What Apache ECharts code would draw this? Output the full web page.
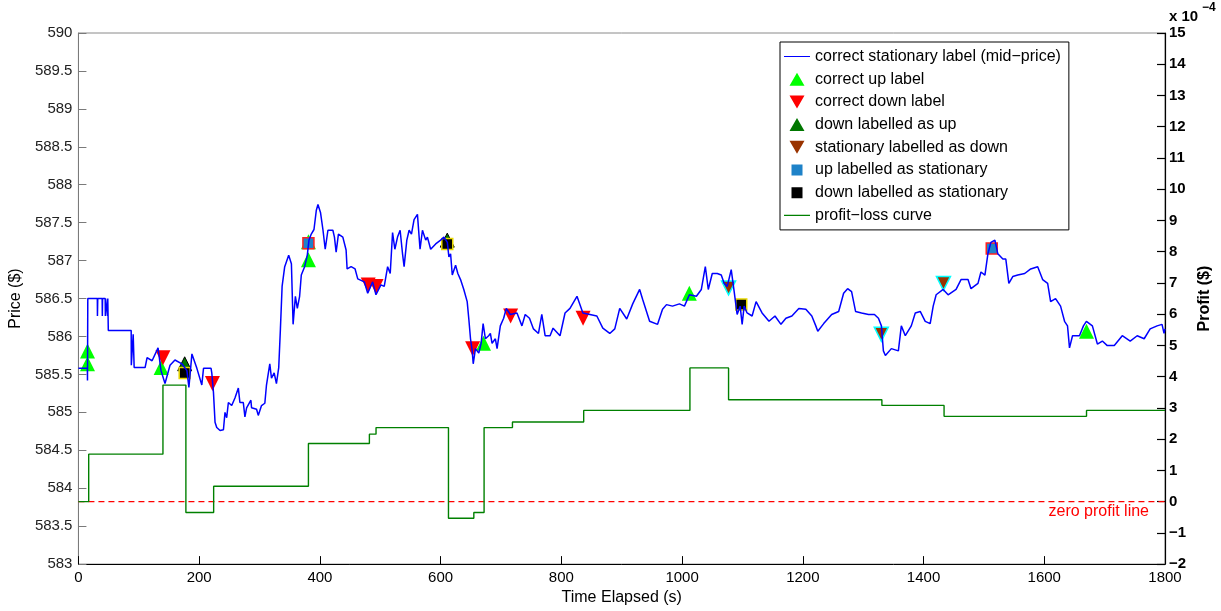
<!DOCTYPE html>
<html>
<head>
<meta charset="utf-8">
<script src="https://cdn.jsdelivr.net/npm/echarts@6/dist/echarts.min.js"></script>
<style>
html,body{margin:0;padding:0;background:#fff;}
#chart{width:1221px;height:611px;}
</style>
</head>
<body>
<div id="chart"></div>
<script>
// ---- data ----
const timeS = [0,14.8,15,15.5,31.3,31.5,32,39.3,39.6,40,44.3,44.6,45,47.8,48.2,48.6,49.5,87.4,87.6,90.7,92.3,110.4,113.7,122,131.9,136.8,143.4,151.7,159.9,171.4,179.7,183,188,196.2,
204.4,207.2,219.7,220.9,223.7,226.3,229.1,234.6,240.2,242.8,245.6,248.4,253.9,259.3,264.9,267.5,273.1,275.8,278.6,285.7,286.8,295.1,297.9,303.3,308.8,311.5,317,319.8,324.2,328,331.8,334.6,337.4,341.7,348.3,352.8,355.6,359.4,362.6,366.4,369.2,374.7,379.1,381.9,385.7,390.2,394,396.8,401.1,405,408.8,413.3,421.5,424.1,426.9,430.7,438,443.4,445.1,451.7,458.3,462.7,473.6,479.2,487.4,492.9,501.1,
506.6,512.2,516.5,520.4,524.2,528.6,532.9,536.9,539.5,544,547.8,551.7,556,561.6,565.9,569.9,575.3,578.1,583.5,591.8,600,605.5,611.1,613.7,616.5,619.3,624.8,628.5,633,638.4,644,646.7,649.5,652.3,654,657.7,663.2,667.1,670.4,674.2,679.6,682.4,685.2,690.7,693.5,698.9,704.4,708.8,715.4,726.5,734.7,740.1,747.2,753.8,762.1,767.6,773.1,781.3,
786.3,797.8,806.1,814.3,825.9,835.7,847.3,858.8,868.7,880.2,888.5,896.7,908.3,918.2,929.7,934.6,946.2,959.4,967.6,974.2,984.1,995.6,1003.9,1012.1,1023.7,1031.9,1038.5,1043.4,1050,1058.3,1064.9,1069.8,1074.8,1081.4,1086.3,1091.2,1096.2,1099.5,1102.8,1107.7,1116,1122.6,1132.5,1144,1153.9,1163.8,1172,1181.9,1193.4,1205,1214.9,1221.5,1224.8,1234.6,1247.8,1259.4,1267.6,1274.2,1280.8,1287.4,1297.3,1308.8,1318.7,1325.3,1330.2,1333.5,1336.8,1346.7,1358.3,1363.2,1369.8,1379.7,1386.3,1394.5,1402.8,1411,1416,1420.9,1432.5,1440.7,1453.9,1462.1,1473.7,1478.6,1490.2,1495.1,1501.7,1506.6,1511.6,1518.2,1523.1,1531.4,1536.3,1541.3,1547.8,1556.1,1567.6,1577.5,1589.1,1597.3,1605.6,1610.5,1618.7,1627,1633.6,1638.5,1641.8,1646.8,1658.3,1664.9,1669.8,1679.7,1688,1696.2,1704.4,1716,1729.2,1742.4,1753.9,1765.5,1775.4,1786.9,1795.1,1798.4,1800];
const midPrice = [585.58,585.58,585.42,586.50,586.50,586.27,586.50,586.50,586.27,586.50,586.50,586.27,586.50,586.50,586.27,586.50,586.08,586.08,585.62,586.03,585.59,585.59,585.72,585.68,585.85,585.55,585.38,585.62,585.69,585.64,585.55,585.33,585.77,585.58,
585.36,585.58,585.58,585.52,585.26,584.87,584.80,584.76,584.77,585.00,584.93,585.13,585.09,585.19,585.32,585.13,585.13,584.94,585.06,585.16,585.06,585.04,584.96,585.09,585.12,585.36,585.64,585.45,585.52,585.38,585.59,586.10,586.66,586.92,587.07,586.96,586.16,586.53,586.37,586.53,586.81,586.92,587.07,587.27,587.35,587.41,587.66,587.74,587.63,587.41,587.15,587.40,587.40,587.31,587.11,587.35,587.31,587.14,586.89,586.92,586.89,586.76,586.72,586.57,586.72,586.55,586.68,
586.66,586.92,586.83,587.37,587.15,587.31,587.40,587.09,586.92,587.27,587.40,587.35,587.54,587.61,587.15,587.40,587.27,587.31,587.15,587.22,587.27,587.31,587.24,587.05,587.09,586.81,586.94,586.83,586.75,586.62,586.46,586.23,585.97,585.81,585.64,585.84,585.78,585.91,586.17,585.97,586.01,586.04,585.91,585.97,585.84,586.14,586.24,586.37,586.29,586.31,586.14,586.29,586.24,586.10,586.04,586.29,586.01,586.01,
586.11,586.01,586.31,586.37,586.53,586.31,586.29,586.27,586.11,586.04,586.10,586.37,586.23,586.43,586.62,586.49,586.20,586.16,586.36,586.42,586.40,586.43,586.40,586.55,586.53,586.62,586.92,586.62,586.83,586.83,586.81,586.70,586.66,586.88,586.59,586.29,586.40,586.16,586.40,586.31,586.27,586.46,586.31,586.20,586.27,586.16,586.24,586.27,586.37,586.36,586.27,586.14,586.07,586.17,586.29,586.33,586.57,586.63,586.59,586.33,586.31,586.29,586.29,586.24,586.14,585.81,585.75,585.84,585.81,586.14,586.01,586.14,586.31,586.33,586.20,586.17,586.40,586.55,586.62,586.55,586.62,586.75,586.75,586.63,586.70,586.85,586.81,587.09,587.24,587.27,587.09,587.02,587.02,586.70,586.79,586.81,586.83,586.89,586.92,586.75,586.70,586.46,586.50,586.40,586.20,586.14,585.85,586.01,586.01,586.14,586.20,586.14,585.90,585.94,585.88,585.88,586.01,585.94,586.01,585.97,586.10,586.14,586.16,586.04,586.10];

const profitT = [0,17,140,178,224,381,482,493,613,655,672,719,837,1013,1077,1331,1434,1670,1800];
const profitV = [0,1.52,3.73,-0.35,0.49,1.86,2.16,2.37,-0.53,-0.35,2.37,2.55,2.92,4.28,3.26,3.08,2.73,2.92,2.92]; // x 10^-4

const correctUpT = [15,15,137,381,381,671,1012,1670];
const correctUpP = [585.81,585.64,585.59,587.25,587.01,585.91,586.57,586.07];
const correctDownT = [140,222,480,493,653,716,836];
const correctDownP = [585.72,585.38,586.68,586.66,585.84,586.27,586.24];
const downAsUpT = [176,611];
const downAsUpP = [585.64,587.27];
const statAsDownT = [1077,1330,1433];
const statAsDownP = [586.64,586.03,586.70];
const upAsStatT = [381,1513];
const upAsStatP = [587.23,587.16];
const downAsStatT = [176,611,1098];
const downAsStatP = [585.52,587.22,586.42];

const zeroLineT = [0,1800];
const zeroLineV = [0,0];

const leftTicks = {min:583, max:590, step:0.5};
const rightTicks = {min:-2, max:15, step:1};

const legendNames = ['correct stationary label (mid\u2212price)','correct up label','correct down label','down labelled as up','stationary labelled as down','up labelled as stationary','down labelled as stationary','profit\u2212loss curve'];

// ---- build ----
const zip = (a,b) => a.map((v,i) => [v, b[i]]);
const minus = v => (v < 0 ? '\u2212' + Math.abs(v) : String(v));
const FONT = 'Liberation Sans, Arial, Helvetica, sans-serif';

// legend icon shapes inside a 26x14 box (corner points fix the box)
const BOX = 'M0,0 L0,0 Z M26,14 L26,14 Z ';
const ICON_LINE = 'path://' + BOX + 'M0,6.4 L26,6.4 L26,7.6 L0,7.6 Z';
const ICON_UP = 'path://' + BOX + 'M5.5,13.5 L13,0.5 L20.5,13.5 Z';
const ICON_DOWN = 'path://' + BOX + 'M5.5,0.5 L20.5,0.5 L13,13.5 Z';
const ICON_SQ = 'path://' + BOX + 'M7.5,1.5 L18.5,1.5 L18.5,12.5 L7.5,12.5 Z';
const legendIcons = [ICON_LINE, ICON_UP, ICON_DOWN, ICON_UP, ICON_DOWN, ICON_SQ, ICON_SQ, ICON_LINE];

const chart = echarts.init(document.getElementById('chart'), null, {renderer:'canvas'});

function scatter(name, t, p, symbol, rotate, size, color, border, bw) {
  return {
    name, type:'scatter', data: zip(t,p), symbol, symbolRotate: rotate, symbolSize: size,
    itemStyle:{color, borderColor:border, borderWidth:bw, opacity:1},
    z:3, animation:false, silent:true
  };
}

const option = {
  animation:false,
  textStyle:{fontFamily:FONT},
  grid:{left:76, right:53, top:33, bottom:40, show:true, borderColor:'#8a8a8a', borderWidth:1, backgroundColor:'#fff'},
  legend:{
    orient:'vertical', left:780, top:42,
    padding:[6.5,8,6.5,4], itemGap:6.7, itemWidth:26, itemHeight:14,
    backgroundColor:'#fff', borderColor:'#000', borderWidth:1, borderRadius:0,
    textStyle:{fontSize:16, color:'#000', fontFamily:FONT},
    itemStyle:{borderWidth:0},
    symbolKeepAspect:true,
    selectedMode:false,
    data: legendNames.map((n,i) => ({name:n, icon:legendIcons[i]}))
  },
  xAxis:{
    type:'value', min:0, max:1800, interval:200,
    axisLine:{onZero:false, lineStyle:{color:'#000', width:1}},
    axisTick:{inside:true, length:8, lineStyle:{color:'#000'}},
    axisLabel:{fontSize:15, color:'#000', margin:6, fontFamily:FONT, formatter: v => String(v)},
    splitLine:{show:false},
    name:'Time Elapsed (s)', nameLocation:'middle', nameGap:21,
    nameTextStyle:{fontSize:16, color:'#000', fontFamily:FONT}
  },
  yAxis:[
    {
      type:'value', position:'left', min:leftTicks.min, max:leftTicks.max, interval:leftTicks.step,
      axisLine:{show:true, onZero:false, lineStyle:{color:'#7a7a7a'}},
      axisTick:{show:true, inside:true, length:8, lineStyle:{color:'#7a7a7a'}},
      axisLabel:{fontSize:15, color:'#222', margin:6, fontFamily:FONT},
      splitLine:{show:false},
      name:'Price ($)', nameLocation:'middle', nameGap:48, nameRotate:90,
      nameTextStyle:{fontSize:16, color:'#000', fontFamily:FONT}
    },
    {
      type:'value', position:'right', min:rightTicks.min, max:rightTicks.max, interval:rightTicks.step,
      axisLine:{show:true, onZero:false, lineStyle:{color:'#000', width:1.2}},
      axisTick:{show:true, inside:true, length:8, lineStyle:{color:'#000', width:1.2}},
      axisLabel:{fontSize:15, color:'#000', margin:4, fontWeight:'bold', fontFamily:FONT, formatter:minus},
      splitLine:{show:false},
      name:'Profit ($)', nameLocation:'middle', nameGap:31, nameRotate:90,
      nameTextStyle:{fontSize:16, color:'#000', fontWeight:'bold', fontFamily:FONT}
    }
  ],
  graphic:[
    {type:'text', left:1169, top:9, style:{text:'x 10', fontSize:15, fill:'#000', fontFamily:FONT, fontWeight:'bold'}},
    {type:'text', left:1202, top:2, style:{text:'\u22124', fontSize:12, fill:'#000', fontFamily:FONT, fontWeight:'bold'}}
  ],
  series:[
    {
      name:'zero profit line', type:'line', data: zip(zeroLineT, zeroLineV),
      yAxisIndex:1, symbol:'none', showSymbol:false,
      lineStyle:{color:'#ff0000', type:[6,4], width:1.3}, itemStyle:{color:'#ff0000'},
      z:2, animation:false, silent:true,
      markLine:{
        silent:true, symbol:['none','none'], animation:false,
        lineStyle:{color:'rgba(255,255,255,0)', width:1},
        label:{show:true, position:'insideEndBottom', formatter:'zero profit line', color:'#ff0000', fontSize:16, fontFamily:FONT, distance:[16,2]},
        data:[{yAxis:0}]
      }
    },
    {
      name:legendNames[0], type:'line', data: zip(timeS, midPrice),
      yAxisIndex:0, symbol:'none', showSymbol:false,
      lineStyle:{color:'#0000ff', width:1.5}, itemStyle:{color:'#0000ff'},
      z:4, animation:false, silent:true
    },
    scatter(legendNames[1], correctUpT, correctUpP, 'triangle', 0, 15, '#00ff00', '#00ff00', 0),
    scatter(legendNames[2], correctDownT, correctDownP, 'triangle', 180, 15, '#ff0000', '#ff0000', 0),
    scatter(legendNames[3], downAsUpT, downAsUpP, 'triangle', 0, 14, '#007700', '#000000', 1),
    scatter(legendNames[4], statAsDownT, statAsDownP, 'triangle', 180, 14, '#993300', '#00ffff', 1.5),
    scatter(legendNames[5], upAsStatT, upAsStatP, 'rect', 0, 11, '#1e82c8', '#ff2020', 1.5),
    scatter(legendNames[6], downAsStatT, downAsStatP, 'rect', 0, 11, '#000000', '#e8d800', 1.5),
    {
      name:legendNames[7], type:'line', step:'end', data: zip(profitT, profitV),
      yAxisIndex:1, symbol:'none', showSymbol:false,
      lineStyle:{color:'#008000', width:1.4}, itemStyle:{color:'#008000'},
      z:3, animation:false, silent:true
    }
  ]
};
chart.setOption(option);
</script>
</body>
</html>
